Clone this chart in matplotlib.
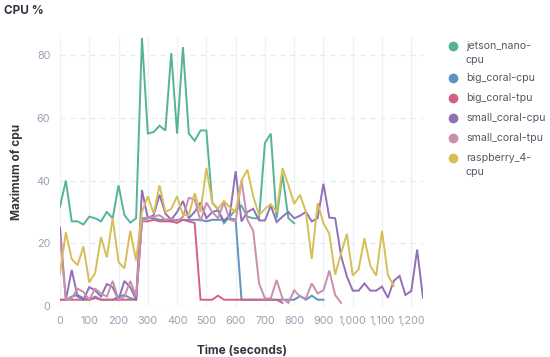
import matplotlib
matplotlib.use("Agg")
import matplotlib.pyplot as plt
from matplotlib.lines import Line2D
from matplotlib.ticker import FuncFormatter
import numpy as np

plt.rcParams['font.family'] = ['Inter', 'DejaVu Sans']

STEP = 20  # seconds between samples

series_names = ["jetson_nano-cpu", "big_coral-cpu", "big_coral-tpu",
                "small_coral-cpu", "small_coral-tpu", "raspberry_4-cpu"]
legend_lines = [["jetson_nano-", "cpu"], ["big_coral-cpu"], ["big_coral-tpu"],
                ["small_coral-cpu"], ["small_coral-tpu"], ["raspberry_4-", "cpu"]]
colors = ["#54B399", "#6092C0", "#D36086", "#9170B8", "#CA8EAE", "#D6BF57"]

jetson_nano_cpu = [31.7, 40, 27, 27, 26, 28.5, 28, 27, 30, 28, 38.5, 29, 26.6, 28,
                   85.5, 55, 55.5, 57.5, 56, 80.7, 55, 82.6, 55, 52.7, 56, 56,
                   33, 30.7, 26.4, 28.5, 30.7, 32, 28.5, 28, 28, 52, 55, 28, 42, 28, 26.4]
big_coral_cpu = [2, 2, 3, 3.5, 2.5, 2, 3, 2, 2, 2, 3, 3.5, 2.5, 2,
                 28, 28, 28, 27.5, 27.5, 27, 27.5, 27.5, 27.5, 27.5, 27.5, 27, 27.5, 27.5,
                 27.5, 28, 27.5,
                 2, 2, 2, 2, 2, 2, 2, 2, 2, 2, 3.2, 2, 3.3, 2, 2]
big_coral_tpu = [2, 2, 2, 2, 2, 2, 2.5, 2, 2, 2, 2, 2, 2, 2,
                 27, 27, 27.5, 27, 27, 27, 26.5, 27.5, 27, 26.5,
                 2, 2, 2, 3.3, 2, 2, 2, 2, 2, 2, 2, 2, 2, 2, 1]
small_coral_cpu = [25, 2, 11.5, 3, 2, 6, 5, 3, 7, 6, 2, 8, 6, 2,
                   37, 28, 29, 35.5, 29.5, 27.5, 30, 33.5, 28, 30, 33, 28, 30, 30.5,
                   27, 29, 43, 27, 30, 31, 27.3, 27.3, 32, 26.8, 28.5, 30, 28, 28.8,
                   30, 27, 28, 39, 28.2, 28,
                   16, 9.4, 4.9, 4.9, 7.2, 4.9, 4.9, 6.2, 2.6, 8, 9.6, 3.5, 4.8, 18, 2.6]
small_coral_tpu = [22, 2, 2.5, 5.5, 4.5, 2, 5.5, 4, 3, 8, 2, 3, 8, 3,
                   27, 28, 28.5, 29, 27.5, 28, 27, 28.5, 34.5, 34, 27, 33, 30, 28,
                   33, 27.5, 27, 40, 27.5, 24, 7.2, 2.4, 2.4, 8.3, 2.4, 1, 5, 3,
                   2.4, 7.2, 4, 5, 11.3, 3.5, 1]
raspberry_4_cpu = [10.4, 23.5, 15, 13, 19, 7.5, 10.5, 22, 15.5, 28, 14, 12, 24, 14.5,
                   30, 35, 29.5, 38.5, 30, 31, 35, 29, 29, 36, 30, 44, 33, 31, 33.5,
                   31.5, 30,
                   40, 43.5, 35, 29, 31, 32.5, 30, 44, 38.6, 32.6, 35.5, 30, 15, 32.8,
                   26.4, 23, 10, 16.8, 23, 9.7, 11.7, 21.6, 12.8, 9.7, 24, 9.9, 6.4]

all_series = [jetson_nano_cpu, big_coral_cpu, big_coral_tpu,
              small_coral_cpu, small_coral_tpu, raspberry_4_cpu]

x_ticks = list(range(0, 1201, 100))
y_ticks = [0, 20, 40, 60, 80]

W, H = 550, 357
fig = plt.figure(figsize=(W / 100, H / 100), dpi=100)
ax_l, ax_r, ax_t, ax_b = 60, 423, 38, 306
ax = fig.add_axes([ax_l / W, 1 - ax_b / H, (ax_r - ax_l) / W, (ax_b - ax_t) / H])

for name, vals, col in zip(series_names, all_series, colors):
    t = np.arange(len(vals)) * STEP
    ax.plot(t, vals, color=col, lw=1.4, label=name, solid_joinstyle='miter', zorder=3)

ax.set_xlim(0, 1240)
ax.set_ylim(0, 85.5)
ax.set_xticks(x_ticks)
ax.set_yticks(y_ticks)
ax.xaxis.set_major_formatter(FuncFormatter(lambda v, p: f"{int(v):,}"))
for s in ax.spines.values():
    s.set_visible(False)
ax.tick_params(length=0, labelsize=7.8, labelcolor="#98A2B3", pad=7)
ax.grid(axis='x', color="#EEF0F3", lw=0.9, zorder=0)
ax.grid(axis='y', color="#E6E9EE", lw=0.9, ls=(0, (4, 4)), zorder=0)
ax.set_facecolor('white')

ax.set_xlabel("Time (seconds)", fontsize=8.5, fontweight='bold', color="#343741", labelpad=14)
ax.set_ylabel("Maximum of cpu", fontsize=8.5, fontweight='bold', color="#343741", labelpad=10)

fig.text(4 / W, 1 - 11 / H, "CPU %", fontsize=8.5, fontweight='bold', color="#343741",
         va='center', ha='left')

# legend
y = 46
for lines, col in zip(legend_lines, colors):
    fig.add_artist(Line2D([453 / W], [1 - y / H], marker='o', ms=6, color=col, ls='none',
                          transform=fig.transFigure))
    for i, ln in enumerate(lines):
        fig.text(466 / W, 1 - (y + i * 14) / H, ln, fontsize=7.6, color="#535966",
                 va='center', ha='left')
    y += 20 + 12 * (len(lines) - 1)

fig.savefig("out.png", dpi=100, facecolor='white')
